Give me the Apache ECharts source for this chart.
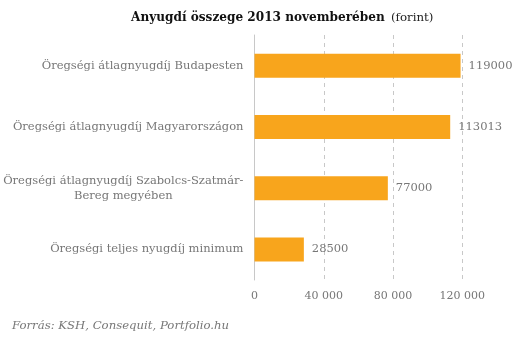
<!DOCTYPE html>
<html>
<head>
<meta charset="utf-8">
<script src="https://cdn.jsdelivr.net/npm/echarts@6/dist/echarts.min.js"></script>
<style>
  html, body { margin: 0; padding: 0; background: #fff; }
  #chart { width: 531px; height: 342px; }
</style>
</head>
<body>
<div id="chart"></div>
<script>
// Pension categories, top to bottom
const categories = [
  'Öregségi átlagnyugdíj Budapesten',
  'Öregségi átlagnyugdíj Magyarországon',
  'Öregségi átlagnyugdíj Szabolcs-Szatmár-\nBereg megyében',
  'Öregségi teljes nyugdíj minimum'
];
// Amounts in forint
const values = [119000, 113013, 77000, 28500];
// Value axis ticks
const tickValues = [0, 40000, 80000, 120000];
const tickLabels = ['0', '40 000', '80 000', '120 000'];

const serif = '"DejaVu Serif", "Liberation Serif", serif';
const chart = echarts.init(document.getElementById('chart'));

chart.setOption({
  animation: false,
  textStyle: { fontFamily: serif },
  title: {
    text: '{b|Anyugdí összege 2013 novemberében} {n|(forint)}',
    left: 126,
    top: 4,
    textStyle: {
      rich: {
        b: { fontFamily: serif, fontWeight: 'bold', fontSize: 12.1, color: '#111' },
        n: { fontFamily: serif, fontWeight: 'normal', fontSize: 11.8, color: '#222' }
      }
    }
  },
  grid: { left: 254.5, top: 35, width: 207.8, height: 245 },
  xAxis: {
    type: 'value',
    min: 0,
    max: 120000,
    interval: 40000,
    axisLine: { show: false },
    axisTick: { show: false },
    splitLine: { show: true, lineStyle: { color: '#c8c8c8', type: [4, 4], width: 1 } },
    axisLabel: {
      margin: 11,
      fontFamily: serif,
      fontSize: 11,
      color: '#777',
      formatter: v => tickLabels[tickValues.indexOf(v)]
    }
  },
  yAxis: {
    type: 'category',
    data: categories,
    inverse: true,
    axisLine: { show: true, lineStyle: { color: '#c8c8c8' } },
    axisTick: { show: false },
    axisLabel: {
      margin: 11,
      fontFamily: serif,
      fontSize: 11.5,
      color: '#777',
      lineHeight: 15,
      formatter: v => v.split('\n').map(s => '{c|' + s + '}').join('\n'),
      rich: { c: { align: 'center', fontFamily: serif, fontSize: 11.5, color: '#777', lineHeight: 15 } }
    }
  },
  series: [{
    type: 'bar',
    data: values,
    barWidth: 24,
    itemStyle: { color: '#F8A51C' },
    label: {
      show: true,
      position: 'right',
      distance: 8,
      fontFamily: serif,
      fontSize: 11.5,
      color: '#777'
    }
  }],
  graphic: [{
    type: 'text',
    left: 12,
    top: 320,
    style: {
      text: 'Forrás: KSH, Consequit, Portfolio.hu',
      font: 'italic 11.7px ' + serif,
      fill: '#777'
    }
  }]
});
</script>
</body>
</html>
